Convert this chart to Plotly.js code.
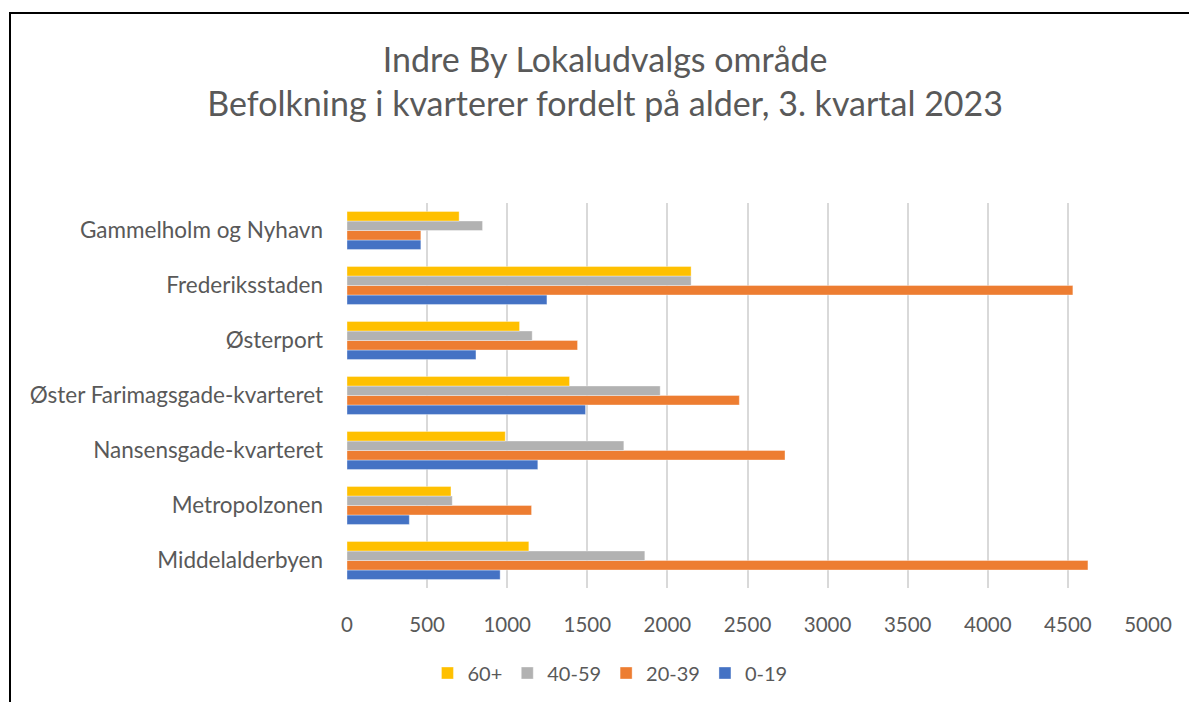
<!DOCTYPE html>
<html>
<head>
<meta charset="utf-8">
<script src="https://cdn.plot.ly/plotly-3.0.1.min.js"></script>
<style>
  html, body { margin: 0; padding: 0; background: #fff; overflow: hidden; }
  #chart { width: 1189px; height: 702px; position: absolute; left: 0; top: 0; }
  #frame { position: absolute; left: 9px; top: 12px; width: 1300px; height: 800px; border: 2px solid #000; pointer-events: none; }
</style>
</head>
<body>
<div id="chart"></div>
<div id="frame"></div>
<script>
// Categories listed bottom to top (as drawn on the y axis)
const categories = [
  "Middelalderbyen",
  "Metropolzonen",
  "Nansensgade-kvarteret",
  "Øster Farimagsgade-kvarteret",
  "Østerport",
  "Frederiksstaden",
  "Gammelholm og Nyhavn"
];
const seriesNames = ["0-19", "20-39", "40-59", "60+"];
const age0_19  = [956, 389, 1191, 1489, 805, 1248, 461];
const age20_39 = [4625, 1152, 2734, 2449, 1439, 4531, 461];
const age40_59 = [1859, 657, 1728, 1955, 1156, 2148, 846];
const age60p   = [1135, 649, 988, 1389, 1077, 2148, 700];
const xTicks = [0, 500, 1000, 1500, 2000, 2500, 3000, 3500, 4000, 4500, 5000];
const colors = ["#4472C4", "#ED7D31", "#B2B2B2", "#FFC000"];
const seriesValues = [age0_19, age20_39, age40_59, age60p];

const font = "Lato, 'Open Sans', sans-serif";
const traces = seriesNames.map((name, i) => ({
  type: "bar",
  orientation: "h",
  name: name,
  y: categories,
  x: seriesValues[i],
  marker: { color: colors[i], line: { color: "rgba(255,255,255,0.6)", width: 0.6 } },
  hoverinfo: "x+name"
}));

const layout = {
  width: 1189,
  height: 702,
  paper_bgcolor: "#fff",
  plot_bgcolor: "#fff",
  font: { family: font, color: "#595959" },
  margin: { l: 347, r: 41, t: 203, b: 114 },
  barmode: "group",
  bargap: 0.31,
  bargroupgap: 0,
  title: {
    text: "Indre By Lokaludvalgs område<br>Befolkning i kvarterer fordelt på alder, 3. kvartal 2023",
    font: { family: font, size: 34, color: "#595959" },
    xref: "container", x: 0.509, xanchor: "center",
    yref: "container", y: 1 - 72 / 702, yanchor: "middle"
  },
  xaxis: {
    range: [0, 5000],
    tickvals: xTicks,
    ticktext: xTicks.map(String),
    showgrid: true,
    gridcolor: "#D9D9D9",
    gridwidth: 2,
    zeroline: false,
    showline: false,
    ticks: "",
    ticklabelstandoff: 22,
    tickfont: { family: font, size: 20.5, color: "#595959" },
    fixedrange: true
  },
  yaxis: {
    type: "category",
    categoryorder: "array",
    categoryarray: categories,
    showgrid: false,
    zeroline: false,
    showline: false,
    ticks: "",
    ticklabelstandoff: 23,
    tickfont: { family: font, size: 22.5, color: "#595959" },
    fixedrange: true
  },
  showlegend: true,
  legend: {
    orientation: "h",
    traceorder: "reversed",
    xref: "container", x: 0.513, xanchor: "center",
    yref: "container", y: 1 - 673 / 702, yanchor: "middle",
    font: { family: font, size: 20, color: "#595959" },
    itemwidth: 30
  }
};

Plotly.newPlot("chart", traces, layout, { displayModeBar: false, staticPlot: true });
</script>
</body>
</html>
